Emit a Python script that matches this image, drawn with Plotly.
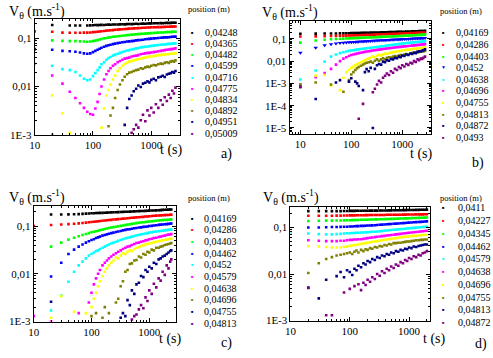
import plotly.graph_objects as go

COLORS = ["#000000", "#ff0000", "#00ff00", "#0000ff", "#00ffff",
          "#ff00ff", "#ffff00", "#808000", "#000080", "#800080"]
N = None

# ---------------- panel a ----------------
TA = [10, 20, 30, 40, 50, 60, 70, 80, 90,
      100, 110, 120, 130, 140, 155, 170, 185, 200, 220,
      240, 265, 290, 320, 350, 385, 420, 460, 500, 550,
      600, 660, 720, 790, 860, 930, 1000, 1100, 1200, 1320,
      1450, 1570, 1700, 1850, 2000, 2150, 2300, 2450, 2600]
A_LABELS = ["0,04248", "0,04365", "0,04482", "0,04599", "0,04716",
            "0,04775", "0,04834", "0,04892", "0,04951", "0,05009"]
A1 = [N, 0.19, N, 0.185, 0.185, 0.185, N, 0.185, 0.187,
      0.188, 0.19, 0.189, 0.19, 0.191, 0.19, 0.192, 0.193, 0.192, 0.194,
      0.195, 0.194, 0.196, 0.197, 0.196, 0.198, 0.199, 0.198, 0.2, 0.201,
      0.2, 0.202, 0.203, 0.202, 0.204, 0.205, 0.204, 0.206, 0.206, 0.207,
      0.208, 0.207, 0.209, 0.21, 0.209, 0.21, 0.211, 0.212, 0.212]
A2 = [0.14, 0.138, 0.132, 0.131, 0.131, 0.131, 0.132, 0.132, 0.133,
      0.135, 0.136, 0.138, 0.139, 0.141, 0.143, 0.145, 0.146, 0.148, 0.149,
      0.151, 0.152, 0.154, 0.155, 0.157, 0.158, 0.16, 0.161, 0.162, 0.163,
      0.164, 0.165, 0.166, 0.167, 0.168, 0.169, 0.17, 0.17, 0.171, 0.172,
      0.172, 0.173, 0.174, 0.175, 0.175, 0.176, 0.176, 0.177, 0.177]
A3 = [0.092, 0.091, 0.089, 0.088, 0.088, 0.087, 0.086, 0.085, 0.086,
      0.088, 0.09, 0.092, 0.095, 0.097, 0.1, 0.102, 0.104, 0.106, 0.108,
      0.109, 0.111, 0.112, 0.114, 0.115, 0.117, 0.118, 0.12, 0.121, 0.122,
      0.123, 0.124, 0.125, 0.126, 0.127, 0.128, 0.129, 0.13, 0.131, 0.132,
      0.133, 0.133, 0.134, 0.135, 0.136, 0.136, 0.137, 0.138, 0.138]
A4 = [0.06, 0.058, 0.055, 0.054, 0.053, 0.051, 0.049, 0.048, 0.049,
      0.052, 0.055, 0.058, 0.061, 0.064, 0.067, 0.07, 0.072, 0.074, 0.076,
      0.078, 0.08, 0.081, 0.083, 0.084, 0.086, 0.087, 0.088, 0.089, 0.091,
      0.092, 0.093, 0.094, 0.096, 0.097, 0.098, 0.099, 0.1, 0.101, 0.102,
      0.103, 0.104, 0.105, 0.105, 0.106, 0.107, 0.108, 0.108, 0.109]
A5 = [0.03, 0.027, 0.023, 0.022, 0.02, 0.017, 0.0145, 0.0135, 0.014,
      0.0165, 0.019, 0.022, 0.025, 0.029, 0.032, 0.036, 0.039, 0.041, 0.044,
      0.046, 0.048, 0.05, 0.052, 0.054, 0.056, 0.057, 0.059, 0.06, 0.062,
      0.063, 0.065, 0.066, 0.067, 0.068, 0.069, 0.07, 0.071, 0.072, 0.073,
      0.074, 0.075, 0.075, 0.076, 0.077, 0.077, 0.078, 0.079, 0.079]
A6 = [N, 0.017, 0.0115, 0.0078, 0.0058, 0.0045, 0.0036, 0.003, 0.0027,
      0.0026, 0.0035, 0.0048, 0.007, 0.01, 0.014, 0.018, 0.021, 0.024, 0.027,
      0.029, 0.032, 0.034, 0.036, 0.038, 0.039, 0.04, 0.042, 0.043, 0.044,
      0.045, 0.047, 0.048, 0.049, 0.05, 0.05, 0.051, 0.052, 0.053, 0.054,
      0.055, 0.056, 0.057, 0.058, 0.059, 0.06, 0.06, 0.061, 0.062]
A7 = [N, 0.0065, 0.0028, 0.0011, N, N, N, N, N,
      N, N, N, N, 0.0014, 0.0035, 0.0065, 0.0085, 0.011, 0.014,
      0.017, 0.021, 0.024, 0.027, 0.029, 0.031, 0.033, 0.034, 0.035, 0.036,
      0.037, 0.038, 0.039, 0.04, 0.041, 0.042, 0.042, 0.043, 0.044, 0.045,
      0.045, 0.046, 0.046, 0.047, 0.047, 0.048, 0.048, 0.049, 0.049]
A8 = [N, 0.001, N, N, N, N, N, N, N,
      N, N, N, N, N, N, N, 0.0015, 0.0025, 0.0036,
      0.0058, 0.0085, 0.011, 0.0135, 0.016, 0.018, 0.0195, 0.02, 0.021, 0.022,
      0.0225, 0.024, 0.0235, 0.025, 0.026, 0.0255, 0.027, 0.028, 0.0275, 0.029,
      0.03, 0.0295, 0.031, 0.032, 0.031, 0.033, 0.034, 0.033, 0.035]
A9 = [N, N, N, N, N, N, N, N, N,
      N, N, N, N, N, N, N, N, N, N,
      N, N, N, N, 0.0016, 0.0036, 0.0055, 0.0065, 0.008, 0.009,
      0.0105, 0.0098, 0.0115, 0.012, 0.0128, 0.0122, 0.0138, 0.0145, 0.0135, 0.0155,
      0.016, 0.0168, 0.0158, 0.0178, 0.0185, 0.019, 0.02, 0.0195, 0.021]
A10 = [N, N, N, N, N, N, N, N, N,
       N, N, N, N, N, N, N, N, N, N,
       N, N, N, N, N, N, N, 0.0011, 0.0013, 0.0016,
       0.0014, 0.002, 0.0026, 0.0019, 0.0032, 0.0025, 0.0036, 0.0029, 0.0043, 0.0036,
       0.0052, 0.0042, 0.006, 0.005, 0.0068, 0.0058, 0.0082, 0.0072, 0.0095]

# ---------------- panel b ----------------
TB = [10, 20, 30, 40, 50, 60, 70, 80, 90,
      100, 110, 120, 130, 140, 155, 170, 185, 200, 220,
      240, 265, 290, 320, 350, 385, 420, 460, 500, 550,
      600, 660, 720, 790, 860, 930, 1000, 1100, 1200, 1320,
      1450, 1570, 1700, 1850, 2000, 2150, 2300, 2450, 2600, 2800]
B_LABELS = ["0,04169", "0,04286", "0,04403", "0,0452", "0,04638",
            "0,04696", "0,04755", "0,04813", "0,04872", "0,0493"]
B1 = [0.17, 0.172, 0.174, 0.175, 0.176, 0.177, 0.178, 0.179, 0.18,
      0.181, 0.182, 0.183, 0.184, 0.185, 0.186, 0.187, 0.188, 0.189, 0.19,
      0.191, 0.192, 0.193, 0.194, 0.195, 0.196, 0.197, 0.198, 0.2, 0.201,
      0.202, 0.204, 0.205, 0.206, 0.207, 0.208, 0.21, 0.211, 0.213, 0.214,
      0.216, 0.217, 0.219, 0.22, 0.222, 0.223, 0.224, 0.225, 0.227, 0.23]
B2 = [0.128, 0.13, 0.133, 0.135, 0.137, 0.139, 0.14, 0.141, 0.142,
      0.143, 0.144, 0.145, 0.146, 0.147, 0.148, 0.149, 0.15, 0.151, 0.152,
      0.153, 0.154, 0.155, 0.157, 0.158, 0.159, 0.161, 0.162, 0.164, 0.165,
      0.167, 0.168, 0.17, 0.171, 0.173, 0.174, 0.176, 0.177, 0.179, 0.18,
      0.182, 0.183, 0.185, 0.186, 0.188, 0.189, 0.19, 0.191, 0.193, 0.195]
B3 = [0.068, 0.085, 0.092, 0.096, 0.099, 0.101, 0.103, 0.105, 0.106,
      0.107, 0.108, 0.109, 0.11, 0.111, 0.112, 0.113, 0.114, 0.115, 0.116,
      0.117, 0.118, 0.119, 0.12, 0.122, 0.123, 0.124, 0.125, 0.127, 0.128,
      0.129, 0.13, 0.132, 0.133, 0.135, 0.136, 0.137, 0.138, 0.14, 0.141,
      0.143, 0.144, 0.146, 0.147, 0.149, 0.15, 0.151, 0.152, 0.154, 0.155]
B4 = [0.024, 0.04, 0.052, 0.058, 0.062, 0.065, 0.067, 0.069, 0.07,
      0.071, 0.072, 0.073, 0.074, 0.075, 0.076, 0.077, 0.078, 0.079, 0.08,
      0.081, 0.082, 0.083, 0.084, 0.085, 0.086, 0.087, 0.088, 0.089, 0.09,
      0.091, 0.092, 0.093, 0.094, 0.095, 0.096, 0.097, 0.098, 0.099, 0.1,
      0.101, 0.102, 0.103, 0.104, 0.105, 0.106, 0.107, 0.108, 0.109, 0.11]
B5 = [0.0015, 0.0038, 0.0095, 0.016, 0.02, 0.023, 0.025, 0.027, 0.029,
      0.03, 0.031, 0.032, 0.033, 0.034, 0.035, 0.036, 0.037, 0.038, 0.039,
      0.04, 0.041, 0.042, 0.043, 0.044, 0.046, 0.047, 0.048, 0.05, 0.051,
      0.053, 0.054, 0.056, 0.057, 0.059, 0.06, 0.062, 0.063, 0.065, 0.066,
      0.068, 0.069, 0.07, 0.071, 0.073, 0.074, 0.075, 0.076, 0.077, 0.078]
B6 = [0.0009, 0.0019, 0.0029, 0.0045, 0.007, 0.01, 0.013, 0.015, 0.017,
      0.019, 0.02, 0.021, 0.022, 0.023, 0.024, 0.025, 0.026, 0.027, 0.028,
      0.029, 0.03, 0.031, 0.032, 0.033, 0.034, 0.035, 0.036, 0.037, 0.038,
      0.039, 0.04, 0.041, 0.042, 0.043, 0.044, 0.045, 0.046, 0.047, 0.048,
      0.049, 0.05, 0.051, 0.052, 0.053, 0.054, 0.055, 0.056, 0.057, 0.058]
B7 = [0.0008, 0.0022, 0.0024, 0.0008, N, 0.0005, 0.0018, 0.0032, 0.004,
      0.005, 0.0055, 0.0065, 0.0072, 0.008, 0.009, 0.01, 0.011, 0.012, 0.013,
      0.014, 0.016, 0.015, 0.0175, 0.019, 0.018, 0.02, 0.022, 0.021, 0.023,
      0.024, 0.025, 0.026, 0.027, 0.028, 0.029, 0.03, 0.031, 0.032, 0.033,
      0.034, 0.035, 0.036, 0.036, 0.037, 0.038, 0.039, 0.039, 0.04, 0.041]
B8 = [0.0009, 0.0011, N, 0.0009, N, N, 0.00042, N, 0.0014,
      0.0025, 0.0032, 0.004, 0.0048, 0.0055, 0.0062, 0.007, 0.0078, 0.0085, 0.009,
      0.0095, 0.0085, 0.0105, 0.012, 0.0105, 0.012, 0.0135, 0.012, 0.014, 0.015,
      0.0145, 0.016, 0.017, 0.016, 0.018, 0.019, 0.018, 0.02, 0.021, 0.02,
      0.022, 0.023, 0.024, 0.025, 0.026, 0.026, 0.027, 0.028, 0.028, 0.029]
B9 = [0.0007, 0.0002, N, N, 0.0011, 0.0014, N, N, 0.0012,
      0.0017, N, 0.0012, 0.001, 0.00076, N, 0.0005, 0.0032, 0.0044, 0.0035,
      0.005, 0.00001, 0.0045, 0.0065, 0.0075, 0.007, 0.0095, 0.009, 0.011, 0.0105,
      0.0125, 0.012, 0.014, 0.0135, 0.016, 0.015, 0.018, 0.017, 0.02, 0.019,
      0.022, 0.021, 0.024, 0.023, 0.026, 0.027, 0.028, 0.029, 0.031, 0.034]
B10 = [0.0007, N, N, N, N, N, N, N, N,
       N, N, N, N, 0.000026, N, 0.00012, N, N, N,
       N, 0.0004, 0.00058, 0.0009, 0.0013, 0.0011, 0.0018, 0.0022, 0.0028, 0.0024,
       0.0035, 0.003, 0.0045, 0.004, 0.0055, 0.0048, 0.0065, 0.0058, 0.0075, 0.0068,
       0.0085, 0.0078, 0.01, 0.0092, 0.012, 0.011, 0.013, 0.0125, 0.014, 0.016]

# ---------------- panel c ----------------
TC = [10, 20, 30, 40, 50, 60, 70, 80, 90,
      100, 110, 120, 130, 140, 155, 170, 185, 200, 220,
      240, 265, 290, 320, 350, 385, 420, 460, 500, 550,
      600, 660, 720, 790, 860, 930, 1000, 1100, 1200, 1320,
      1450, 1570, 1700, 1850, 2000, 2150, 2300, 2400]
C_LABELS = ["0,04169", "0,04286", "0,04403", "0,04462", "0,0452",
            "0,04579", "0,04638", "0,04696", "0,04755", "0,04813"]
C1 = [N, 0.175, 0.175, 0.176, 0.177, 0.178, 0.18, 0.182, 0.183,
      0.185, 0.186, 0.187, 0.188, 0.189, 0.189, 0.19, 0.191, 0.192, 0.193,
      0.194, 0.195, 0.196, 0.197, 0.198, 0.199, 0.2, 0.201, 0.202, 0.203,
      0.204, 0.205, 0.206, 0.207, 0.208, 0.209, 0.21, 0.211, 0.212, 0.213,
      0.215, 0.216, 0.218, 0.219, 0.22, 0.221, 0.222, 0.222]
C2 = [0.1, 0.105, 0.108, 0.11, 0.112, 0.114, 0.116, 0.118, 0.12,
      0.122, 0.123, 0.125, 0.126, 0.128, 0.129, 0.131, 0.132, 0.134, 0.135,
      0.137, 0.138, 0.14, 0.141, 0.143, 0.144, 0.146, 0.147, 0.149, 0.15,
      0.152, 0.153, 0.155, 0.156, 0.158, 0.159, 0.161, 0.162, 0.164, 0.165,
      0.166, 0.167, 0.168, 0.169, 0.17, 0.171, 0.172, 0.172]
C3 = [N, 0.037, 0.045, 0.052, 0.057, 0.061, 0.065, 0.068, 0.071,
      0.074, 0.076, 0.078, 0.08, 0.082, 0.084, 0.087, 0.089, 0.091, 0.093,
      0.095, 0.097, 0.099, 0.101, 0.103, 0.105, 0.107, 0.109, 0.111, 0.113,
      0.115, 0.117, 0.119, 0.12, 0.122, 0.123, 0.125, 0.126, 0.128, 0.129,
      0.131, 0.132, 0.133, 0.134, 0.135, 0.136, 0.137, 0.137]
C4 = [N, 0.0088, 0.017, 0.026, 0.032, 0.037, 0.041, 0.045, 0.048,
      0.051, 0.053, 0.056, 0.058, 0.06, 0.063, 0.065, 0.067, 0.069, 0.071,
      0.073, 0.075, 0.077, 0.079, 0.081, 0.083, 0.085, 0.086, 0.088, 0.09,
      0.091, 0.093, 0.094, 0.096, 0.097, 0.098, 0.1, 0.101, 0.103, 0.104,
      0.106, 0.107, 0.108, 0.109, 0.11, 0.111, 0.112, 0.113]
C5 = [N, 0.0017, 0.0035, 0.0068, 0.011, 0.015, 0.018, 0.021, 0.024,
      0.026, 0.028, 0.03, 0.031, 0.033, 0.035, 0.037, 0.039, 0.041, 0.043,
      0.045, 0.047, 0.049, 0.051, 0.053, 0.055, 0.057, 0.058, 0.06, 0.062,
      0.064, 0.065, 0.067, 0.068, 0.07, 0.071, 0.073, 0.074, 0.076, 0.077,
      0.078, 0.079, 0.08, 0.081, 0.082, 0.083, 0.084, 0.084]
C6 = [0.0013, 0.001, N, N, N, 0.0015, N, N, 0.0025,
      0.004, 0.006, 0.008, 0.01, 0.012, 0.015, 0.017, 0.019, 0.021, 0.023,
      0.025, 0.027, 0.029, 0.031, 0.033, 0.035, 0.037, 0.038, 0.04, 0.042,
      0.044, 0.045, 0.047, 0.048, 0.05, 0.051, 0.053, 0.054, 0.056, 0.057,
      0.059, 0.06, 0.062, 0.063, 0.065, 0.066, 0.067, 0.068]
C7 = [N, 0.0012, 0.0034, N, 0.0016, N, N, 0.0015, N,
      0.002, 0.003, 0.004, 0.0055, 0.007, 0.009, 0.011, 0.013, 0.015, 0.017,
      0.019, 0.022, 0.021, 0.024, 0.027, 0.026, 0.029, 0.031, 0.03, 0.033,
      0.035, 0.036, 0.038, 0.039, 0.041, 0.042, 0.043, 0.044, 0.046, 0.047,
      0.048, 0.049, 0.05, 0.051, 0.052, 0.053, 0.054, 0.054]
C8 = [N, N, N, N, N, N, N, N, N,
      0.0013, N, 0.0015, N, N, 0.0012, 0.002, N, 0.0015, N,
      N, 0.0025, 0.003, 0.0055, 0.007, 0.011, 0.012, 0.016, 0.0165, 0.019,
      0.0195, 0.023, 0.022, 0.026, 0.025, 0.029, 0.028, 0.032, 0.031, 0.035,
      0.035, 0.037, 0.038, 0.04, 0.041, 0.042, 0.043, 0.044]
C9 = [N, 0.0026, N, N, N, N, N, N, N,
      N, N, N, N, N, N, N, N, N, N,
      N, N, N, 0.0012, 0.0015, 0.0013, 0.0028, 0.0022, 0.0045, 0.0038,
      0.006, 0.0065, 0.009, 0.0085, 0.012, 0.011, 0.014, 0.013, 0.017, 0.016,
      0.02, 0.021, 0.023, 0.024, 0.026, 0.028, 0.03, 0.031]
C10 = [N, N, N, N, N, N, N, N, N,
       N, N, N, N, N, N, N, N, N, N,
       N, N, N, N, N, N, N, N, 0.0011, 0.0013,
       0.0014, 0.0018, 0.0022, 0.0019, 0.0032, 0.0027, 0.0045, 0.0038, 0.0062, 0.0052,
       0.008, 0.0072, 0.011, 0.0095, 0.015, 0.013, 0.018, 0.02]

# ---------------- panel d ----------------
TD = [10, 20, 30, 40, 50, 60, 70, 80, 90,
      100, 110, 120, 130, 140, 155, 170, 185, 200, 220,
      240, 265, 290, 320, 350, 385, 420, 460, 500, 550,
      600, 660, 720, 790, 860, 930, 1000, 1100, 1200, 1320,
      1450, 1570, 1700, 1850, 2000]
D_LABELS = ["0,0411", "0,04227", "0,04345", "0,04462", "0,04579",
            "0,04638", "0,04696", "0,04755", "0,04813", "0,04872"]
D1 = [N, 0.225, 0.225, 0.225, 0.225, 0.225, 0.225, 0.226, 0.226,
      0.227, 0.227, 0.227, 0.228, 0.228, 0.228, 0.228, 0.229, 0.229, 0.23,
      0.23, 0.23, 0.23, 0.231, 0.231, 0.232, 0.232, 0.233, 0.233, 0.234,
      0.234, 0.235, 0.235, 0.236, 0.236, 0.237, 0.237, 0.238, 0.238, 0.239,
      0.239, 0.24, 0.24, 0.241, 0.242]
D2 = [N, 0.178, 0.178, 0.179, 0.179, 0.18, 0.18, 0.181, 0.181,
      0.182, 0.182, 0.182, 0.183, 0.183, 0.183, 0.183, 0.184, 0.184, 0.185,
      0.185, 0.185, 0.185, 0.186, 0.186, 0.186, 0.187, 0.187, 0.187, 0.188,
      0.188, 0.188, 0.188, 0.189, 0.189, 0.19, 0.19, 0.19, 0.19, 0.191,
      0.191, 0.191, 0.191, 0.192, 0.192]
D3 = [N, 0.138, 0.139, 0.14, 0.14, 0.141, 0.141, 0.142, 0.143,
      0.143, 0.144, 0.144, 0.145, 0.145, 0.146, 0.146, 0.147, 0.147, 0.148,
      0.148, 0.149, 0.149, 0.15, 0.15, 0.151, 0.152, 0.152, 0.153, 0.153,
      0.154, 0.155, 0.156, 0.156, 0.157, 0.157, 0.158, 0.159, 0.16, 0.16,
      0.161, 0.162, 0.162, 0.163, 0.164]
D4 = [N, 0.1, 0.1, 0.101, 0.102, 0.102, 0.103, 0.104, 0.104,
      0.105, 0.105, 0.106, 0.107, 0.107, 0.108, 0.108, 0.109, 0.11, 0.11,
      0.111, 0.112, 0.113, 0.114, 0.115, 0.116, 0.117, 0.118, 0.119, 0.12,
      0.121, 0.122, 0.123, 0.124, 0.125, 0.126, 0.127, 0.128, 0.129, 0.13,
      0.131, 0.132, 0.133, 0.134, 0.135]
D5 = [0.075, 0.074, 0.072, 0.071, 0.071, 0.072, 0.073, 0.074, 0.075,
      0.075, 0.076, 0.076, 0.077, 0.077, 0.078, 0.078, 0.079, 0.079, 0.08,
      0.081, 0.081, 0.082, 0.083, 0.084, 0.085, 0.086, 0.087, 0.088, 0.089,
      0.09, 0.091, 0.092, 0.093, 0.094, 0.095, 0.096, 0.097, 0.098, 0.099,
      0.1, 0.101, 0.102, 0.103, 0.104]
D6 = [N, 0.053, 0.052, 0.051, 0.051, 0.051, 0.052, 0.052, 0.053,
      0.054, 0.054, 0.055, 0.055, 0.056, 0.056, 0.057, 0.058, 0.059, 0.06,
      0.061, 0.062, 0.063, 0.064, 0.065, 0.066, 0.067, 0.068, 0.069, 0.07,
      0.071, 0.072, 0.073, 0.074, 0.075, 0.076, 0.077, 0.078, 0.079, 0.08,
      0.081, 0.082, 0.083, 0.084, 0.085]
D7 = [N, 0.04, 0.039, 0.038, 0.037, 0.037, 0.037, 0.038, 0.039,
      0.04, 0.041, 0.042, 0.042, 0.043, 0.044, 0.045, 0.046, 0.047, 0.048,
      0.049, 0.05, 0.051, 0.052, 0.053, 0.054, 0.055, 0.056, 0.057, 0.058,
      0.059, 0.06, 0.061, 0.062, 0.063, 0.063, 0.064, 0.065, 0.066, 0.066,
      0.067, 0.068, 0.069, 0.069, 0.07]
D8 = [N, 0.0105, 0.017, 0.021, 0.023, 0.025, 0.026, 0.027, 0.028,
      0.029, 0.027, 0.03, 0.032, 0.029, 0.033, 0.031, 0.034, 0.033, 0.036,
      0.035, 0.038, 0.037, 0.04, 0.039, 0.042, 0.041, 0.044, 0.043, 0.046,
      0.046, 0.047, 0.047, 0.048, 0.049, 0.05, 0.05, 0.051, 0.052, 0.053,
      0.053, 0.054, 0.054, 0.055, 0.055]
D9 = [N, 0.0051, 0.003, 0.0075, N, 0.009, 0.011, 0.0085, 0.012,
      0.011, 0.0095, 0.013, 0.012, 0.015, 0.014, 0.017, 0.016, 0.019, 0.018,
      0.021, 0.02, 0.023, 0.022, 0.025, 0.024, 0.027, 0.026, 0.029, 0.028,
      0.031, 0.03, 0.033, 0.032, 0.035, 0.034, 0.037, 0.036, 0.039, 0.038,
      0.04, 0.041, 0.042, 0.043, 0.043]
D10 = [N, 0.005, N, 0.0013, 0.0013, N, N, 0.004, N,
       0.0048, N, 0.0055, N, 0.006, 0.0045, 0.0065, 0.0058, 0.0075, 0.0068,
       0.0085, 0.0078, 0.01, 0.0092, 0.0115, 0.0105, 0.013, 0.012, 0.0145, 0.0135,
       0.016, 0.015, 0.018, 0.017, 0.02, 0.019, 0.022, 0.021, 0.024, 0.023,
       0.026, 0.025, 0.028, 0.029, 0.031]

W, H = 493, 358
SERIF = "Liberation Serif, Times New Roman, DejaVu Serif, serif"


def px(x):
    return x / W


def py(y):
    return 1 - y / H


PANELS = [
    dict(tag="a)", t=TA, ys=[A1, A2, A3, A4, A5, A6, A7, A8, A9, A10], labels=A_LABELS,
         box=(29, 176, 19, 137), xr=[1, 3.49], yr=[-3, -0.59],
         yt=[0.001, 0.01, 0.1], ytt=["1E-3", "0,01", "0,1"],
         title=(1, 11), pos=(205, 9.5), leg=(189, 199, 32.8, 11.4), tlab=(168, 153), plab=(223, 157),
         blue_tri=False),
    dict(tag="b)", t=TB, ys=[B1, B2, B3, B4, B5, B6, B7, B8, B9, B10], labels=B_LABELS,
         box=(287, 430, 21, 136), xr=[0.787, 3.56], yr=[-5.26, -0.18],
         yt=[1e-5, 1e-4, 0.001, 0.01, 0.1], ytt=["1E-5", "1E-4", "1E-3", "0,01", "0,1"],
         title=(257, 12), pos=(461, 10.7), leg=(443, 454, 33.5, 11.8), tlab=(421, 157), plab=(478, 165.7),
         blue_tri=True),
    dict(tag="c)", t=TC, ys=[C1, C2, C3, C4, C5, C6, C7, C8, C9, C10], labels=C_LABELS,
         box=(28, 172, 210, 327), xr=[1, 3.46], yr=[-3, -0.59],
         yt=[0.001, 0.01, 0.1], ytt=["1E-3", "0,01", "0,1"],
         title=(1, 200), pos=(205, 201), leg=(189, 198.5, 222, 11.85), tlab=(167, 344.7), plab=(223, 349),
         blue_tri=False),
    dict(tag="d)", t=TD, ys=[D1, D2, D3, D4, D5, D6, D7, D8, D9, D10], labels=D_LABELS,
         box=(288, 429, 211, 326), xr=[1, 3.35], yr=[-3, -0.57],
         yt=[0.001, 0.01, 0.1], ytt=["1E-3", "0,01", "0,1"],
         title=(258, 200), pos=(461, 201), leg=(443, 455.5, 211.5, 12.95), tlab=(433.5, 344.7), plab=(481, 349.7),
         blue_tri=False),
]

for P in PANELS:
    for yv in P["ys"]:
        assert len(yv) == len(P["t"]), (P["tag"], len(yv), len(P["t"]))

fig = go.Figure()
annotations = []
layout = {}


def minor_vals(lo, hi):
    out = []
    for e in range(lo, hi + 1):
        for m in range(2, 10):
            out.append(m * 10.0 ** e)
    return out


for i, P in enumerate(PANELS):
    n = "" if i == 0 else str(i + 1)
    xa, ya = "x" + n, "y" + n
    x0, x1, y0, y1 = P["box"]
    axis_common = dict(type="log", showline=True, linecolor="black", linewidth=1, mirror="allticks",
                       ticks="inside", ticklen=4, tickcolor="black", showgrid=False, zeroline=False,
                       tickfont=dict(family=SERIF, size=11, color="black"), tickmode="array")
    layout["xaxis" + n] = dict(axis_common, domain=[px(x0), px(x1)], range=P["xr"], anchor=ya,
                               tickvals=[10, 100, 1000], ticktext=["10", "100", "1000"],
                               minor=dict(ticks="inside", ticklen=2, tickcolor="black",
                                          tickvals=minor_vals(0, 3), showgrid=False))
    layout["yaxis" + n] = dict(axis_common, domain=[py(y1), py(y0)], range=P["yr"], anchor=xa,
                               tickvals=P["yt"], ticktext=P["ytt"],
                               minor=dict(ticks="inside", ticklen=2, tickcolor="black",
                                          tickvals=minor_vals(-6, 0), showgrid=False))
    for k, (yv, lab) in enumerate(zip(P["ys"], P["labels"])):
        sym = "triangle-down" if (P["blue_tri"] and k == 3) else "square"
        fig.add_trace(go.Scatter(x=P["t"], y=yv, mode="markers", name=lab, xaxis=xa, yaxis=ya,
                                 marker=dict(symbol=sym, size=2.6 if sym == "square" else 4,
                                             color=COLORS[k], line=dict(width=0)),
                                 showlegend=False))
        mx, tx, ly0, dy = P["leg"]
        yy = ly0 + k * dy
        annotations.append(dict(x=px(mx), y=py(yy), xref="paper", yref="paper",
                                text="▼" if sym == "triangle-down" else "■", showarrow=False,
                                xanchor="center", yanchor="middle",
                                font=dict(size=4 if sym == "square" else 5, color=COLORS[k])))
        annotations.append(dict(x=px(tx), y=py(yy), xref="paper", yref="paper", text=lab,
                                showarrow=False, xanchor="left", yanchor="middle",
                                font=dict(family=SERIF, size=10, color="black")))
    tx_, ty_ = P["title"]
    annotations.append(dict(x=px(tx_), y=py(ty_), xref="paper", yref="paper",
                            text="V<sub>θ</sub> (m.s<sup>-1</sup>)", showarrow=False,
                            xanchor="left", yanchor="middle",
                            font=dict(family=SERIF, size=14, color="black")))
    annotations.append(dict(x=px(P["pos"][0]), y=py(P["pos"][1]), xref="paper", yref="paper",
                            text="position (m)", showarrow=False, xanchor="center", yanchor="middle",
                            font=dict(family=SERIF, size=8.5, color="black")))
    annotations.append(dict(x=px(P["tlab"][0]), y=py(P["tlab"][1]), xref="paper", yref="paper",
                            text="t (s)", showarrow=False, xanchor="center", yanchor="middle",
                            font=dict(family=SERIF, size=14, color="black")))
    annotations.append(dict(x=px(P["plab"][0]), y=py(P["plab"][1]), xref="paper", yref="paper",
                            text=P["tag"], showarrow=False, xanchor="center", yanchor="middle",
                            font=dict(family=SERIF, size=14, color="black")))

fig.update_layout(**layout)
fig.update_layout(width=W, height=H, margin=dict(l=0, r=0, t=0, b=0),
                  paper_bgcolor="white", plot_bgcolor="white", showlegend=False,
                  font=dict(family=SERIF, color="black"),
                  annotations=annotations)
fig.write_html("out.html")
